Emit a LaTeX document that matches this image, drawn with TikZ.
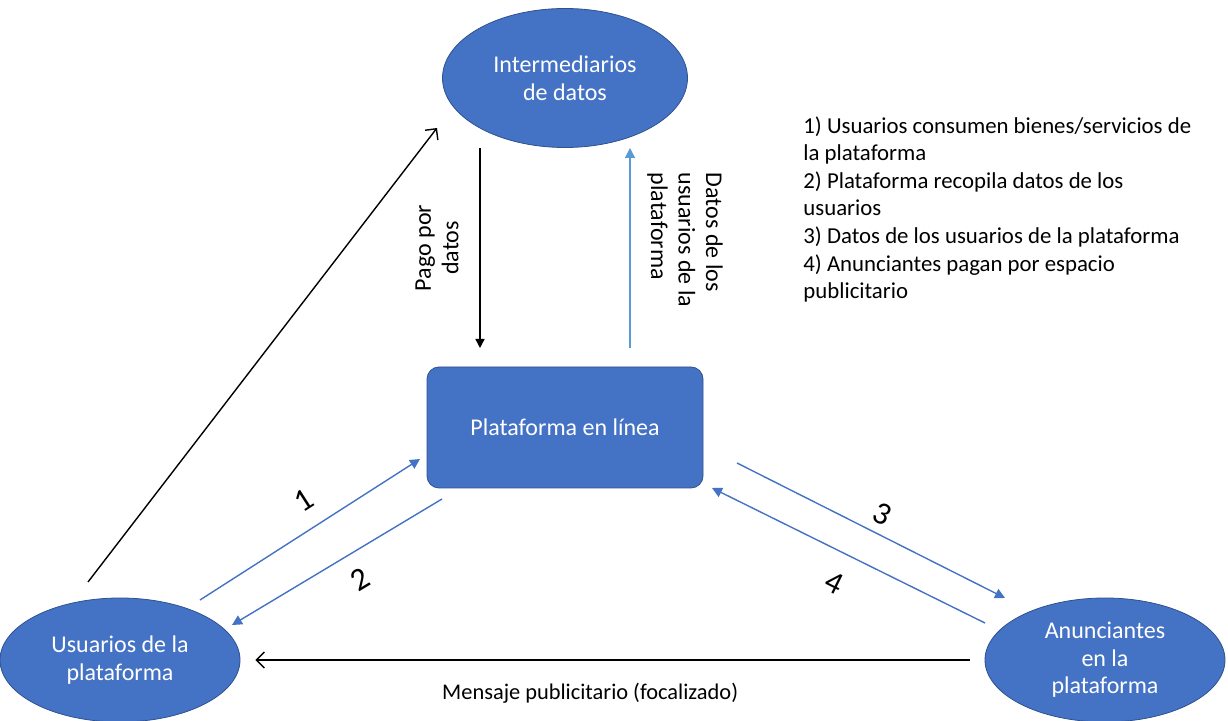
\documentclass[tikz,border=0pt]{standalone}
\usepackage{fontspec}
\setmainfont{Carlito}
\usepackage{xcolor}
\definecolor{myblue}{RGB}{68,114,196}
\definecolor{myborder}{RGB}{47,82,143}
\definecolor{lightblue}{RGB}{91,155,213}
\usepackage{tikz}
\usetikzlibrary{arrows.meta, shapes.geometric}
\newcommand{\diagfont}{\fontsize{12}{13.8}\selectfont}

\begin{document}
\begin{tikzpicture}[x=0.5pt, y=-0.5pt,
    elli/.style={ellipse, draw=myborder, thin, fill=myblue, inner sep=0pt,
      minimum width=120pt, minimum height=62pt, align=center,
      text=white, font=\diagfont},
    box/.style={rectangle, rounded corners=6pt, draw=myborder, thin,
      fill=myblue, minimum width=138pt, minimum height=60.5pt,
      align=center, text=white, font=\diagfont},
    lbl/.style={align=center, inner sep=0pt, font=\diagfont},
    num/.style={inner sep=0pt, font=\fontsize{16}{18}\selectfont},
    arrow/.style={line width=0.7pt, -{Straight Barb[length=4pt, width=8pt]}},
    blarrow/.style={line width=0.7pt, draw=myblue,
      -{Triangle[length=5pt, width=5pt]}}
]
\useasboundingbox (0,0) rectangle (1228,721);

%% Nodos
\node[elli, minimum width=122.5pt, minimum height=69.5pt] (inter) at (565,78)
  {Intermediarios\\de datos};
\node[box] (plat) at (565,427.5) {Plataforma en línea};
\node[elli] (usr) at (120,660) {Usuarios de la\\plataforma};
\node[elli] (anu) at (1105,660) {Anunciantes\\en la\\plataforma};

%% Extremos de las flechas
\coordinate (u0) at (88,582);   \coordinate (i0) at (437,128);
\coordinate (i1) at (480,148);  \coordinate (p5) at (480,348);
\coordinate (p6) at (630,348);  \coordinate (i2) at (630,148);
\coordinate (u1) at (200,600);  \coordinate (p1) at (420,459);
\coordinate (p2) at (442,499);  \coordinate (u2) at (232,625);
\coordinate (p3) at (737,463);  \coordinate (a3) at (1005,598);
\coordinate (a4) at (985,623);  \coordinate (p4) at (712,488);

%% Intermediarios
\draw[arrow] (u0) -- (i0);
\draw[line width=0.7pt, -{Triangle[length=4.5pt, width=4.5pt]}] (i1) -- (p5);
\node[lbl, rotate=90] (pago) at (437,248) {Pago por\\datos};
\draw[line width=0.7pt, draw=lightblue,
  -{Triangle[length=5pt, width=5pt]}] (p6) -- (i2);
\node[lbl, align=left, rotate=-90] (datos) at (685,240)
  {Datos de los\\usuarios de la\\plataforma};

%% Flujos numerados
\draw[blarrow] (u1) -- node[num, pos=0.54, sloped, above=8.5pt] (n1) {1} (p1);
\draw[blarrow] (p2) -- node[num, pos=0.455, sloped, below=8pt] (n2) {2} (u2);
\draw[blarrow] (p3) -- node[num, pos=0.51, sloped, above=4.5pt] (n3) {3} (a3);
\draw[blarrow] (a4) -- node[num, pos=0.5, sloped, below=10pt] (n4) {4} (p4);

%% Mensaje
\draw[arrow, shorten <=7.5pt, shorten >=7.5pt] (anu.west) --
  node[lbl, pos=0.53, below=11pt, font=\fontsize{11.2}{13.8}\selectfont] (msj)
  {Mensaje publicitario (focalizado)} (usr.east);

%% Leyenda
\node[lbl, align=left, anchor=north west, font=\fontsize{11.4}{13.8}\selectfont]
  (ley) at (803,116)
  {1) Usuarios consumen bienes/servicios de\\
   la plataforma\\
   2) Plataforma recopila datos de los\\
   usuarios\\
   3) Datos de los usuarios de la plataforma\\
   4) Anunciantes pagan por espacio\\
   publicitario};
\end{tikzpicture}
\end{document}
